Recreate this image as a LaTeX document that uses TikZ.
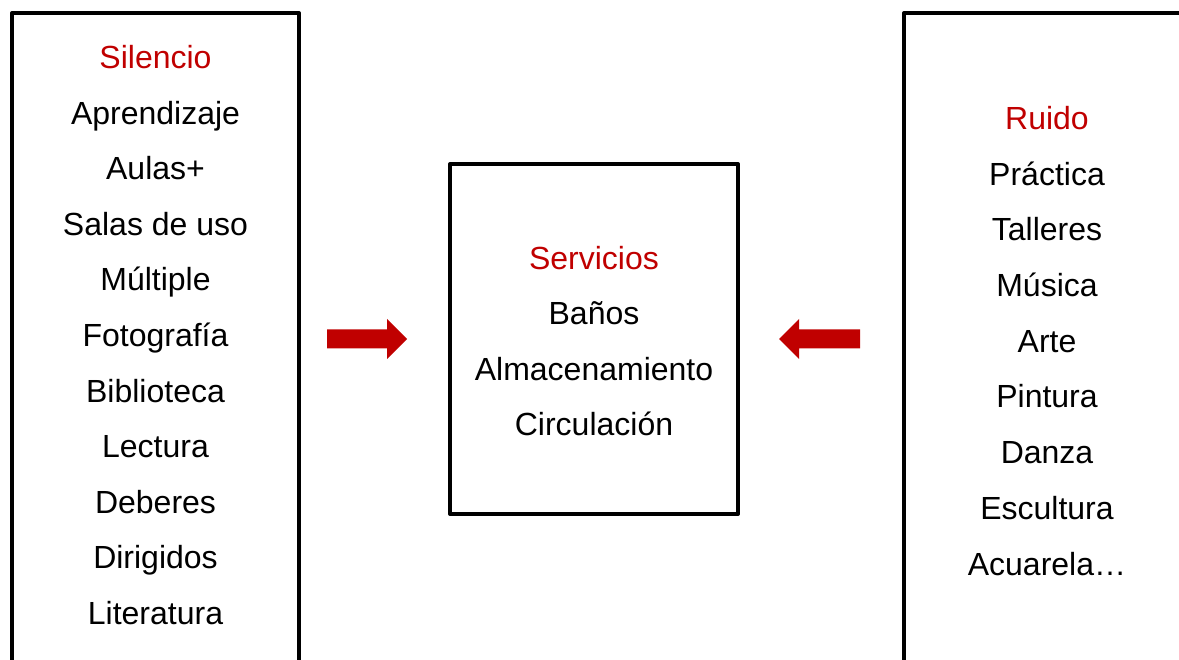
\documentclass[tikz,border=0pt]{standalone}
\usepackage{fontspec}
\setmainfont{Liberation Sans}
\definecolor{accent}{HTML}{C00000}
\begin{document}
\begin{tikzpicture}[x=1pt,y=-1pt,
  box/.style={draw=black,line width=4pt,line join=round},
  lbl/.style={anchor=base,inner sep=0pt,font=\fontsize{32}{38}\selectfont},
  head/.style={lbl,text=accent},
  arrowshape/.style={fill=accent,draw=none}]
\useasboundingbox (0,0) rectangle (1179,660);
\begin{scope}
\clip (0,0) rectangle (1179,660);
\draw[box] (12,700) -- (12,13) -- (299,13) -- (299,700);
\draw[box] (904,700) -- (904,13) -- (1200,13);
\draw[box] (450,164) rectangle (738,514);
\end{scope}
% left column
\node[head] (s0) at (155.5,68.5) {Silencio};
\foreach \t [count=\i] in {Aprendizaje,Aulas+,Salas de uso,Múltiple,Fotografía,Biblioteca,Lectura,Deberes,Dirigidos,Literatura}
  \node[lbl] (s\i) at (155.5,68.5+\i*55.6) {\t};
% center column
\node[head] (c0) at (594,269.5) {Servicios};
\foreach \t [count=\i] in {Baños,Almacenamiento,Circulación}
  \node[lbl] (c\i) at (594,269.5+\i*55.4) {\t};
% right column
\node[head] (r0) at (1047,129.5) {Ruido};
\foreach \t [count=\i] in {Práctica,Talleres,Música,Arte,Pintura,Danza,Escultura,Acuarela…}
  \node[lbl] (r\i) at (1047,129.5+\i*55.7) {\t};
% arrows
\coordinate (ra) at (327,339);
\coordinate (la) at (860,339);
\fill[arrowshape] (ra) ++(0,-9.5) -- ++(60,0) -- ++(0,-10.5) -- ++(20,20) -- ++(-20,20) -- ++(0,-10.5) -- ++(-60,0) -- cycle;
\fill[arrowshape] (la) ++(0,-9.5) -- ++(-61,0) -- ++(0,-10.5) -- ++(-20,20) -- ++(20,20) -- ++(0,-10.5) -- ++(61,0) -- cycle;
\end{tikzpicture}
\end{document}
